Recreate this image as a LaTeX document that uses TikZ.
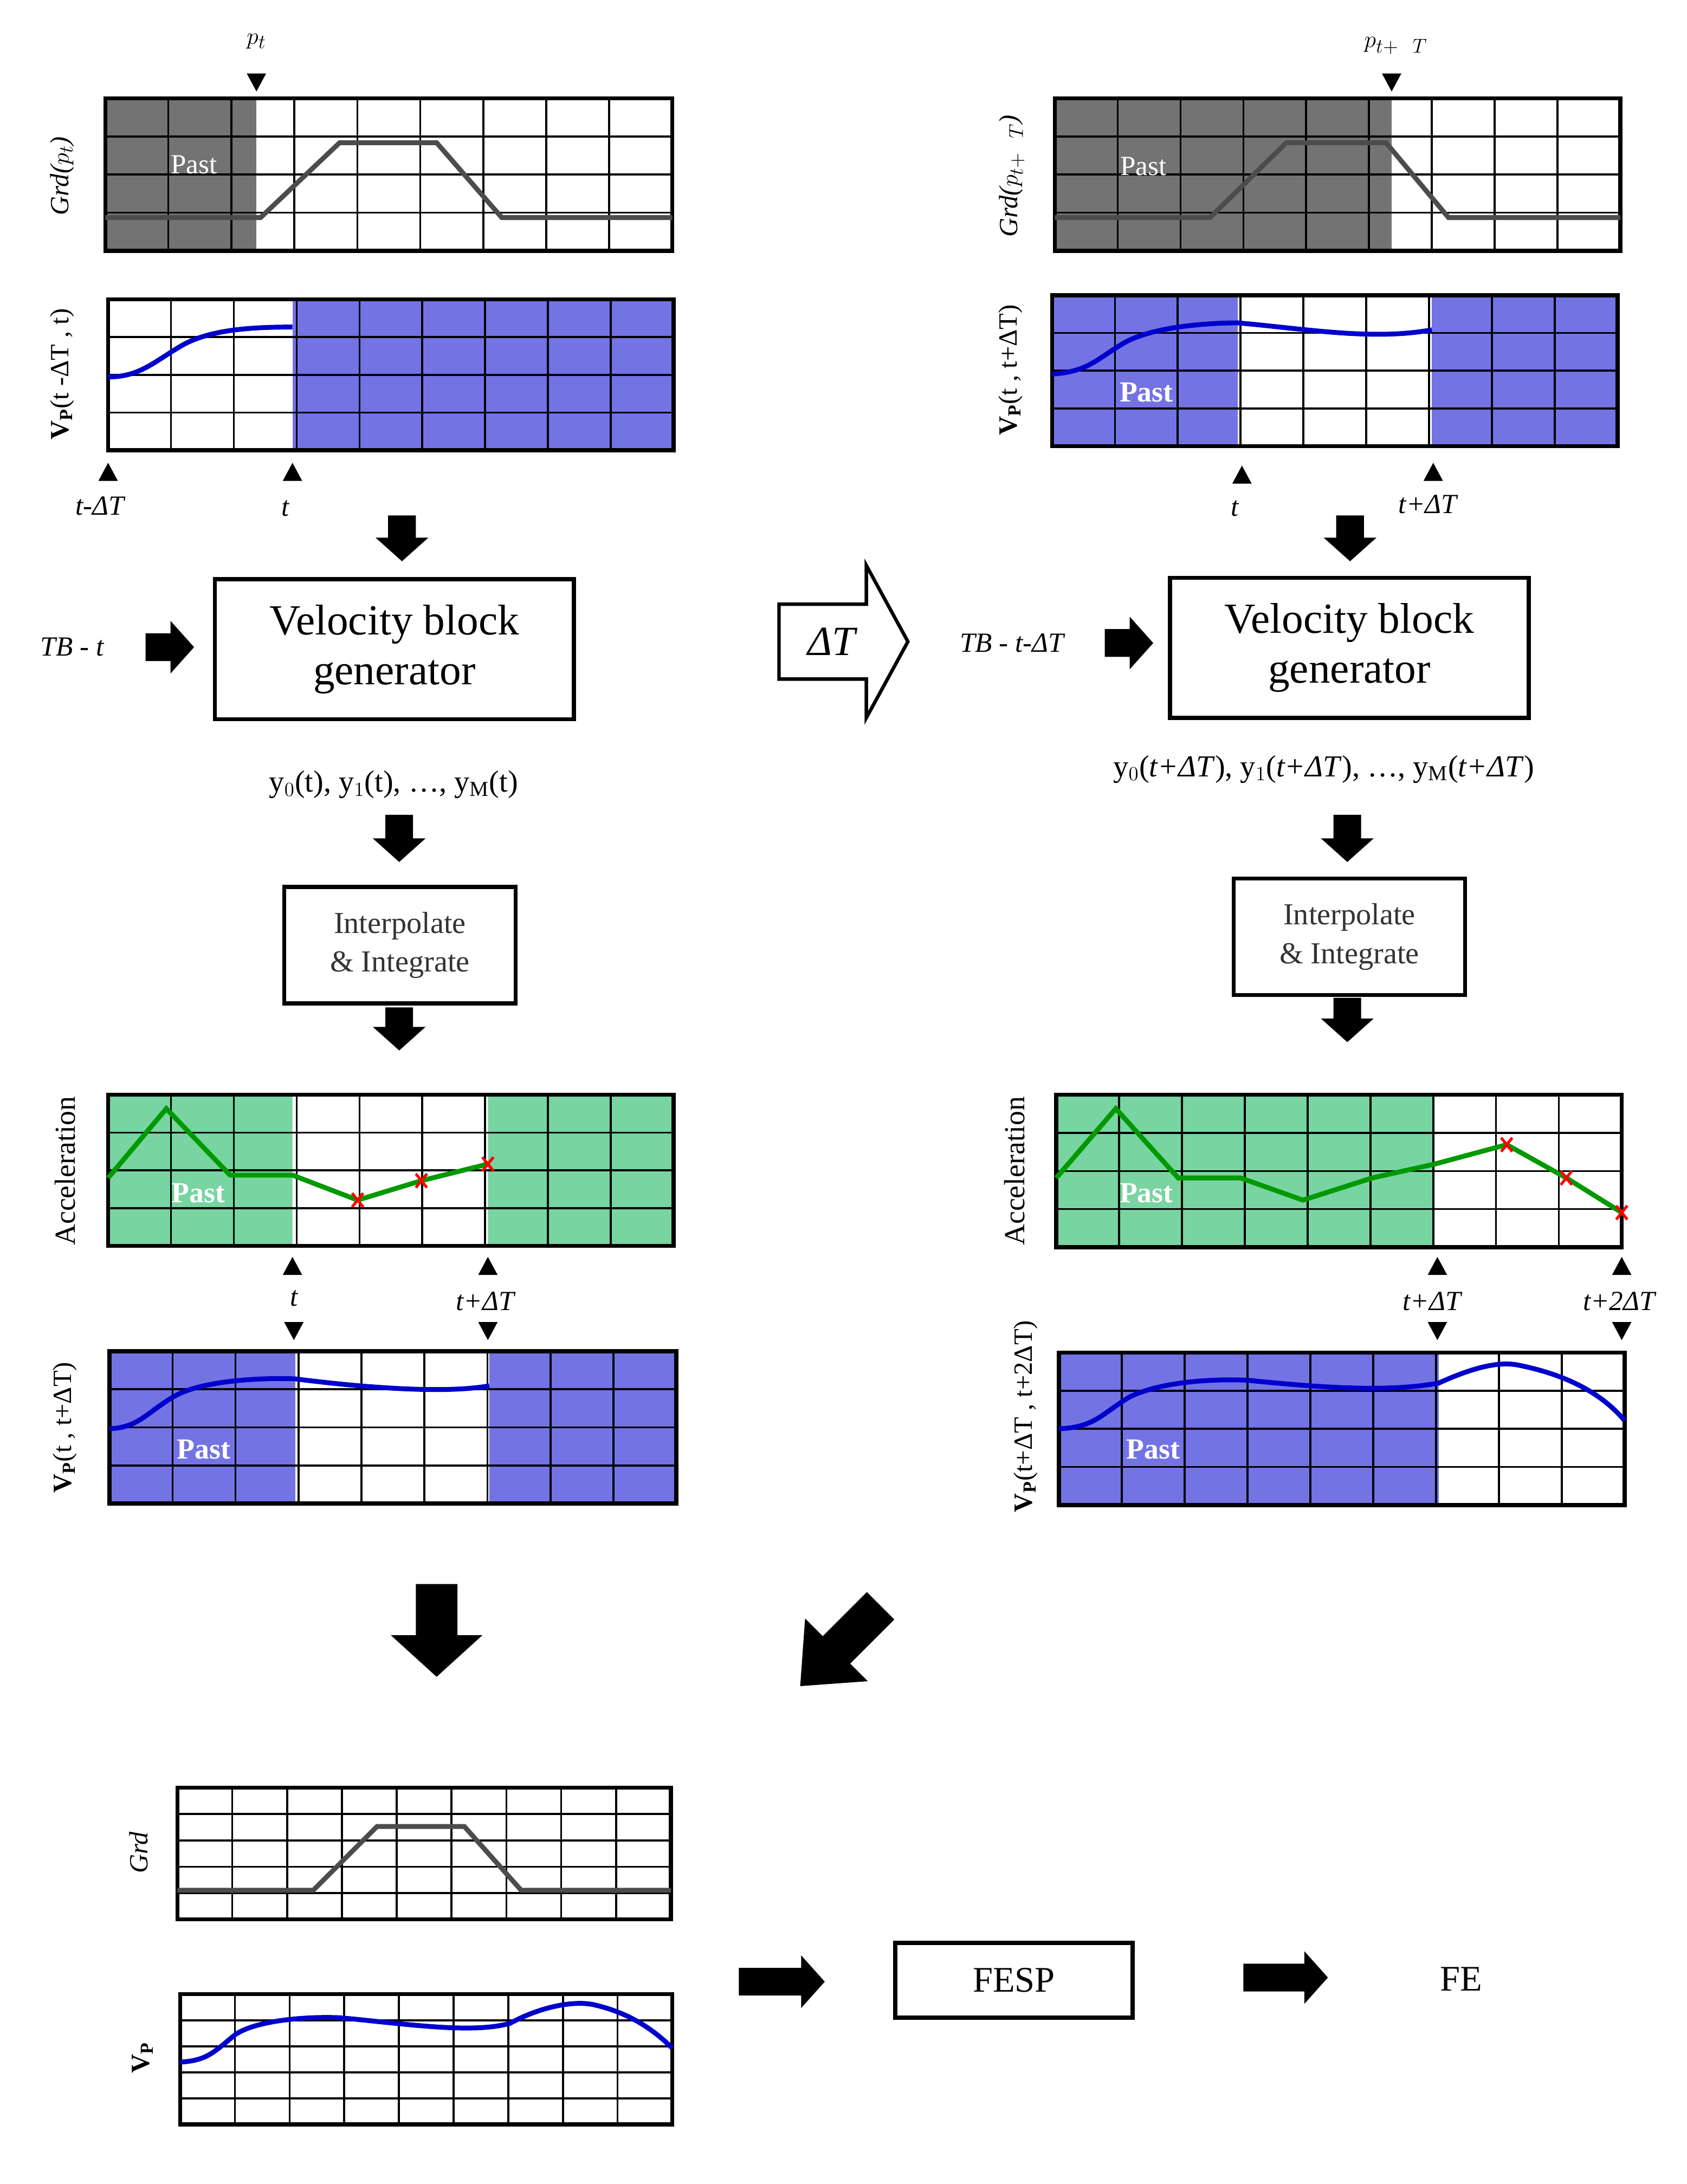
\documentclass[tikz,border=0pt]{standalone}
\usepackage{fontspec}
\setmainfont{Liberation Serif}
\begin{document}
\begin{tikzpicture}[x=1pt,y=-1pt,
  gridl/.style={line width=1.4pt,black},
  frame/.style={line width=3pt,black},
  grdc/.style={line width=3.5pt,color=black!70},
  bluec/.style={line width=3.5pt,color=blue!80!black},
  greenc/.style={line width=3.5pt,color=green!60!black},
  past/.style={text=white,font=\bfseries\fontsize{21}{24}\selectfont},
  lab/.style={font=\fontsize{20}{24}\selectfont},
  ylab/.style={font=\fontsize{19}{22}\selectfont,rotate=90},
  box/.style={draw,line width=3pt,inner sep=0pt}]
\definecolor{pblue}{RGB}{115,115,228}
\definecolor{pgreen}{RGB}{120,212,160}
\definecolor{pgray}{RGB}{115,115,115}
\useasboundingbox (0,0) rectangle (1217,1576);
\fill[white] (0,0) rectangle (1217,1576);
\newcommand\chart[6]{%
 \foreach \i in {1,...,#5}{\pgfmathsetmacro\xx{#1+(#3-#1)*\i/#5}\draw[gridl] (\xx,#2)--(\xx,#4);}
 \foreach \j in {1,...,#6}{\pgfmathsetmacro\yy{#2+(#4-#2)*\j/#6}\draw[gridl] (#1,\yy)--(#3,\yy);}
 \draw[frame] (#1,#2) rectangle (#3,#4);}
\newcommand\tup[2]{\fill (#1-7,#2+7)--(#1+7,#2+7)--(#1,#2-6)--cycle;}
\newcommand\tdn[2]{\fill (#1-7,#2-7)--(#1+7,#2-7)--(#1,#2+6)--cycle;}
\newcommand\darr[3]{\fill (#1-10,#2)--(#1+10,#2)--(#1+10,#3-17)--(#1+19,#3-17)--(#1,#3)--(#1-19,#3-17)--(#1-10,#3-17)--cycle;}
\newcommand\rarr[3]{\fill (#1,#3-10)--(#2-17,#3-10)--(#2-17,#3-19)--(#2,#3)--(#2-17,#3+19)--(#2-17,#3+10)--(#1,#3+10)--cycle;}
\newcommand\xm[2]{\draw[red,line width=2pt] (#1-4,#2-5)--(#1+4,#2+5) (#1+4,#2-5)--(#1-4,#2+5);}

% ---- top-left Grd
\fill[pgray] (76,71) rectangle (185,181);
\chart{76}{71}{485}{181}{9}{4}
\draw[grdc] (76,157)--(188,157)--(245,103)--(315,103)--(362,157)--(485,157);
\node[text=white,lab] (pastA) at (140,119) {Past};
\tdn{185}{60}
\node[lab,font=\itshape\fontsize{19}{22}\selectfont] (pt) at (185,30) {$p_t$};
\node[ylab] (grdA) at (45,127) {\itshape Grd($p_t$)};
% ---- top-left Vp
\fill[pblue] (211,216) rectangle (486,325);
\chart{78}{216}{486}{325}{9}{4}
\draw[bluec] (78,272) .. controls (100,272) and (110,262) .. (130,250) .. controls (150,238) and (180,236) .. (211,236);
\node[ylab] (vA) at (45,270) {$\mathbf{V_P}$(t -ΔT , t)};
\tup{78}{340}\tup{211}{340}
\node[lab] (tA1) at (72,365) {\itshape t-ΔT};
\node[lab] (tA2) at (206,367) {\itshape t};
\darr{290}{372}{405}
\node[box,minimum width=259,minimum height=101,align=center,font=\fontsize{31}{36}\selectfont] (vbgA) at (284.5,468.5) {Velocity block\\generator};
\node[lab] (tbA) at (52,467) {\itshape TB - t};
\rarr{105}{140}{467}
\node[font=\fontsize{22}{26}\selectfont] (yA) at (284,566) {y$_0$(t), y$_1$(t), …, y$_\mathrm{M}$(t)};
\darr{288}{588}{622}
\node[box,minimum width=167,minimum height=84,align=center,font=\fontsize{22}{28}\selectfont,text=black!80] (ipA) at (288.5,682) {Interpolate\\\& Integrate};
\darr{288}{727}{758}
% ---- accel left
\fill[pgreen] (78,790) rectangle (211,899) (352,790) rectangle (486,899);
\chart{78}{790}{486}{899}{9}{4}
\draw[greenc] (78,850)--(120,800)--(166,848)--(211,848)--(258,866)--(304,852)--(352,840);
\xm{258}{866}\xm{304}{852}\xm{352}{840}
\node[past] (pastC) at (143,861) {Past};
\node[ylab,font=\fontsize{21}{24}\selectfont] (accA) at (47,845) {Acceleration};
\tup{211}{913}\tup{352}{913}\tdn{212}{961}\tdn{352}{961}
\node[lab] (tC1) at (212,937) {\itshape t};
\node[lab] (tC2) at (350,939) {\itshape t+ΔT};
% ---- vp left bottom
\fill[pblue] (79,975) rectangle (213,1085) (353,975) rectangle (488,1085);
\chart{79}{975}{488}{1085}{9}{4}
\draw[bluec] (79,1031) .. controls (100,1030) and (105,1020) .. (125,1008) .. controls (145,996) and (190,994) .. (213,995) .. controls (260,1001) and (320,1006) .. (353,1000);
\node[past] (pastD) at (147,1046) {Past};
\node[ylab] (vD) at (47,1030) {$\mathbf{V_P}$(t , t+ΔT)};

% ---- top-right Grd
\fill[pgray] (761,71) rectangle (1004,181);
\chart{761}{71}{1169}{181}{9}{4}
\draw[grdc] (761,157)--(873,157)--(928,103)--(1000,103)--(1045,157)--(1169,157);
\node[text=white,lab] (pastE) at (825,120) {Past};
\tdn{1004}{60}
\node[lab,font=\itshape\fontsize{19}{22}\selectfont] (ptt) at (1007,33) {$p_{t+\mathit{\Delta} T}$};
\node[ylab] (grdE) at (730,127) {\itshape Grd($p_{t+\mathit{\Delta} T}$)};
% ---- top-right Vp
\fill[pblue] (759,213) rectangle (893,322) (1033,213) rectangle (1167,322);
\chart{759}{213}{1167}{322}{9}{4}
\draw[bluec] (759,270) .. controls (785,268) and (790,260) .. (810,248) .. controls (830,236) and (870,233) .. (893,233) .. controls (940,237) and (990,246) .. (1033,238);
\node[past] (pastF) at (827,283) {Past};
\node[ylab] (vF) at (729,267) {$\mathbf{V_P}$(t , t+ΔT)};
\tup{896}{342}\tup{1034}{340}
\node[lab] (tF1) at (891,367) {\itshape t};
\node[lab] (tF2) at (1030,364) {\itshape t+ΔT};
\darr{974}{372}{405}
\node[box,minimum width=259,minimum height=101,align=center,font=\fontsize{31}{36}\selectfont] (vbgB) at (973.5,467.5) {Velocity block\\generator};
\node[lab] (tbB) at (730,464) {\itshape TB - t-ΔT};
\rarr{797}{832}{464}
\draw[line width=2.5pt,fill=white] (562,436)--(625,436)--(625,408)--(655,463)--(625,518)--(625,490)--(562,490)--cycle;
\node[font=\itshape\fontsize{30}{34}\selectfont] (dT) at (600,463) {ΔT};
\node[font=\fontsize{22}{26}\selectfont] (yB) at (955,555) {y$_0$(\textit{t+ΔT}), y$_1$(\textit{t+ΔT}), …, y$_\mathrm{M}$(\textit{t+ΔT})};
\darr{972}{588}{622}
\node[box,minimum width=167,minimum height=84,align=center,font=\fontsize{22}{28}\selectfont,text=black!80] (ipB) at (973.5,676) {Interpolate\\\& Integrate};
\darr{972}{720}{752}
% ---- accel right
\fill[pgreen] (762,790) rectangle (1035,900);
\chart{762}{790}{1170}{900}{9}{4}
\draw[greenc] (762,850)--(805,800)--(850,850)--(895,850)--(940,866)--(990,850)--(1035,840)--(1087,826)--(1130,850)--(1170,875);
\xm{1087}{826}\xm{1130}{850}\xm{1170}{875}
\node[past] (pastG) at (827,861) {Past};
\node[ylab,font=\fontsize{21}{24}\selectfont] (accB) at (732,845) {Acceleration};
\tup{1037}{913}\tup{1170}{913}\tdn{1037}{961}\tdn{1170}{961}
\node[lab] (tG1) at (1033,939) {\itshape t+ΔT};
\node[lab] (tG2) at (1168,939) {\itshape t+2ΔT};
% ---- vp right bottom
\fill[pblue] (764,976) rectangle (1038,1086);
\chart{764}{976}{1172}{1086}{9}{4}
\draw[bluec] (764,1031) .. controls (790,1030) and (795,1020) .. (815,1008) .. controls (840,996) and (880,995) .. (900,996) .. controls (950,1001) and (1000,1005) .. (1038,998) .. controls (1060,988) and (1080,982) .. (1095,985) .. controls (1130,992) and (1155,1005) .. (1172,1025);
\node[past] (pastH) at (832,1046) {Past};
\node[ylab] (vH) at (740,1022) {$\mathbf{V_P}$(t+ΔT , t+2ΔT)};

% ---- big arrows
\fill (300,1143)--(330,1143)--(330,1180)--(348,1180)--(315,1210)--(282,1180)--(300,1180)--cycle;
\begin{scope}[shift={(607,1187)},rotate=225]
\fill (-40,-14)--(5,-14)--(5,-32)--(42,0)--(5,32)--(5,14)--(-40,14)--cycle;
\end{scope}
% ---- bottom Grd
\chart{128}{1290}{484}{1385}{9}{5}
\draw[grdc] (128,1364)--(226,1364)--(272,1318)--(335,1318)--(376,1364)--(484,1364);
\node[ylab,font=\itshape\fontsize{19}{22}\selectfont] (grdI) at (100,1337) {Grd};
% ---- bottom Vp
\chart{130}{1439}{485}{1533}{9}{5}
\draw[bluec] (130,1488) .. controls (150,1487) and (155,1480) .. (170,1468) .. controls (185,1458) and (220,1455) .. (245,1456) .. controls (290,1460) and (340,1468) .. (368,1460) .. controls (390,1448) and (415,1443) .. (430,1447) .. controls (455,1453) and (472,1465) .. (485,1478);
\node[ylab] (vI) at (103,1485) {$\mathbf{V_P}$};
\rarr{533}{595}{1430}
\node[box,minimum width=171,minimum height=54,font=\fontsize{26}{30}\selectfont] (fesp) at (731.5,1429) {FESP};
\rarr{897}{958}{1427}
\node[font=\fontsize{26}{30}\selectfont] (fe) at (1054,1428) {FE};
\end{tikzpicture}
\end{document}
